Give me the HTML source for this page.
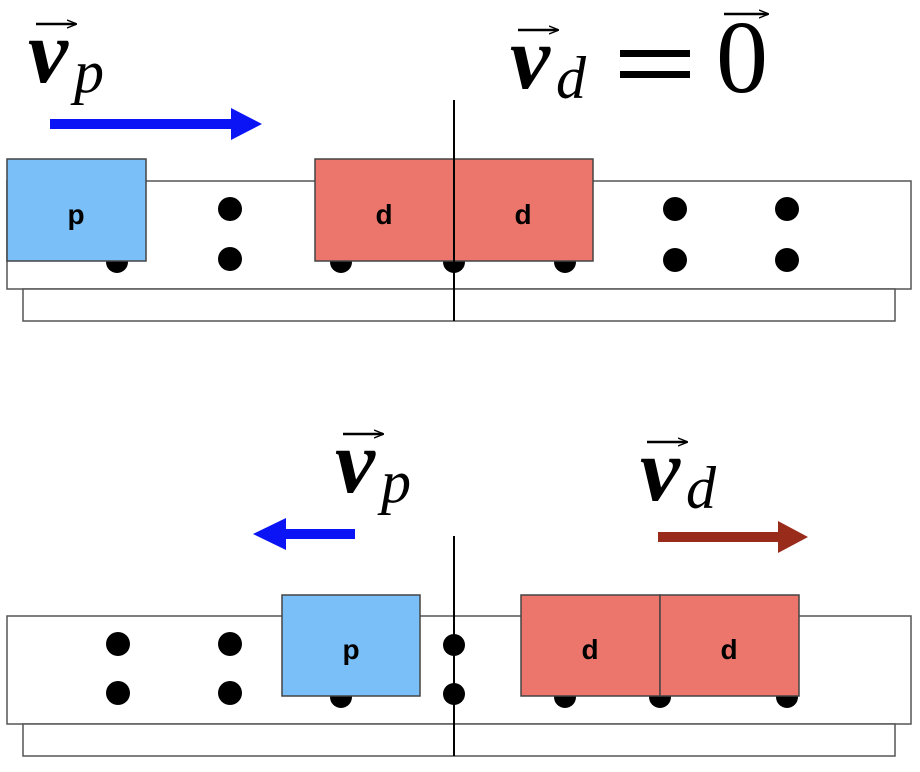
<!DOCTYPE html>
<html><head><meta charset="utf-8"><style>body{margin:0;background:#fff}svg{display:block}</style></head><body>
<svg width="920" height="772" viewBox="0 0 920 772" xmlns="http://www.w3.org/2000/svg" font-family="Liberation Serif, serif">
<defs>
<marker id="vh" viewBox="0 0 10 10" refX="9" refY="5" markerWidth="10" markerHeight="10" markerUnits="userSpaceOnUse" orient="auto"><path d="M0,1 L10,5 L0,9" fill="none" stroke="#000" stroke-width="1.4"/></marker>
</defs>
<g stroke="#555" stroke-width="1.5" fill="#fff">
<rect x="7" y="181" width="904" height="108"/>
<rect x="23" y="289" width="872" height="32"/>
<rect x="7" y="616" width="904" height="108"/>
<rect x="23" y="724" width="872" height="32"/>
</g>
<g fill="#000">
<circle cx="117" cy="262" r="11"/><circle cx="341" cy="262" r="11"/><circle cx="454" cy="262" r="11"/><circle cx="565" cy="262" r="11"/>
<circle cx="230" cy="209" r="12"/><circle cx="230" cy="259" r="12"/>
<circle cx="675" cy="209" r="12"/><circle cx="675" cy="260" r="12"/>
<circle cx="787" cy="209" r="12"/><circle cx="787" cy="260" r="12"/>
<circle cx="118" cy="644" r="12"/><circle cx="118" cy="693" r="12"/>
<circle cx="230" cy="644" r="12"/><circle cx="230" cy="693" r="12"/>
<circle cx="454" cy="645" r="11"/><circle cx="454" cy="694" r="11"/>
<circle cx="341" cy="697" r="11"/>
<circle cx="565" cy="697" r="11"/><circle cx="660" cy="697" r="11"/><circle cx="787" cy="697" r="11"/>
</g>
<g stroke="#444" stroke-width="1.5">
<rect x="7" y="159" width="139" height="102" fill="#7abff8"/>
<rect x="315" y="159" width="139" height="102" fill="#ec766c"/>
<rect x="454" y="159" width="139" height="102" fill="#ec766c"/>
<rect x="282" y="595" width="138" height="101" fill="#7abff8"/>
<rect x="521" y="595" width="139" height="101" fill="#ec766c"/>
<rect x="660" y="595" width="139" height="101" fill="#ec766c"/>
</g>
<g fill="#000" font-family="Liberation Sans, sans-serif" font-weight="bold" font-size="28" text-anchor="middle">
<text x="76" y="224">p</text><text x="384" y="224">d</text><text x="523" y="224">d</text>
<text x="351" y="659">p</text><text x="590" y="659">d</text><text x="729" y="659">d</text>
</g>
<line x1="454" y1="100" x2="454" y2="321" stroke="#000" stroke-width="2"/>
<line x1="454" y1="536" x2="454" y2="756" stroke="#000" stroke-width="2"/>
<path d="M50,119 H231 V108 L262,124 L231,140 V129 H50 Z" fill="#0a14f5"/>
<path d="M355,529 H286 V518 L253,534 L286,550 V539 H355 Z" fill="#0a14f5"/>
<path d="M658,532 H778 V521 L808,537 L778,553 V542 H658 Z" fill="#992b1a"/>
<g fill="#000" font-style="italic">
<text x="28" y="82" font-size="90" font-weight="bold">v</text><text x="74" y="92" font-size="60">p</text>
<line x1="36" y1="24" x2="76" y2="24" stroke="#000" stroke-width="2.5" marker-end="url(#vh)"/>
<text x="510" y="88" font-size="90" font-weight="bold">v</text><text x="556" y="98" font-size="60">d</text>
<line x1="518" y1="30" x2="558" y2="30" stroke="#000" stroke-width="2.5" marker-end="url(#vh)"/>
<text x="335" y="492" font-size="90" font-weight="bold">v</text><text x="381" y="502" font-size="60">p</text>
<line x1="343" y1="434" x2="383" y2="434" stroke="#000" stroke-width="2.5" marker-end="url(#vh)"/>
<text x="640" y="500" font-size="90" font-weight="bold">v</text><text x="686" y="508" font-size="60">d</text>
<line x1="647" y1="442" x2="687" y2="442" stroke="#000" stroke-width="2.5" marker-end="url(#vh)"/>
</g>
<rect x="620" y="50" width="70" height="7" fill="#000"/>
<rect x="620" y="71" width="70" height="7" fill="#000"/>
<text x="716" y="92" font-size="104" fill="#000">0</text>
<line x1="724" y1="14" x2="768" y2="14" stroke="#000" stroke-width="2.5" marker-end="url(#vh)"/>
</svg>
</body></html>
